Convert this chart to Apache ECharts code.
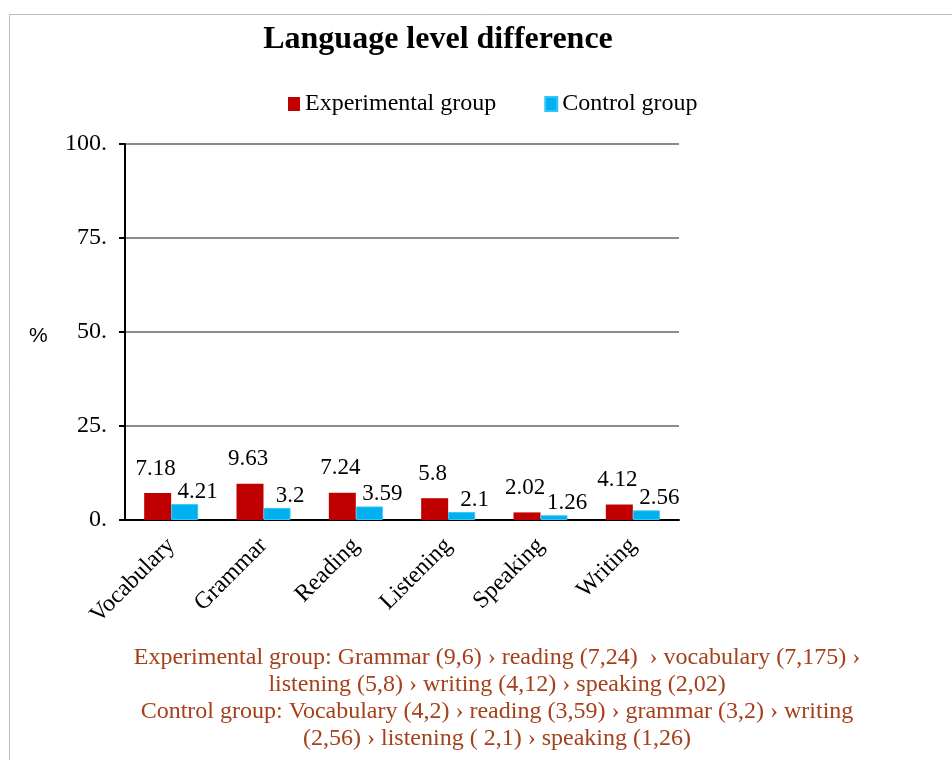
<!DOCTYPE html>
<html>
<head>
<meta charset="utf-8">
<script src="https://cdn.jsdelivr.net/npm/echarts@6/dist/echarts.min.js"></script>
<style>
  html, body { margin: 0; padding: 0; background: #fff; }
  #chart { width: 952px; height: 760px; }
</style>
</head>
<body>
<div id="chart"></div>
<script>
var categories = ["Vocabulary", "Grammar", "Reading", "Listening", "Speaking", "Writing"];
var experimental = [7.18, 9.63, 7.24, 5.8, 2.02, 4.12];
var control = [4.21, 3.2, 3.59, 2.1, 1.26, 2.56];
var footLines = [
    "Experimental group: Grammar (9,6) \u203A reading (7,24)  \u203A vocabulary (7,175) \u203A",
    "listening (5,8) \u203A writing (4,12) \u203A speaking (2,02)",
    "Control group: Vocabulary (4,2) \u203A reading (3,59) \u203A grammar (3,2) \u203A writing",
    "(2,56) \u203A listening ( 2,1) \u203A speaking (1,26)"
];

var serif = "'Liberation Serif', 'Times New Roman', serif";
var chart = echarts.init(document.getElementById("chart"));

// frame, the "%" axis name and the footnote lines
var graphics = [{
    type: "rect",
    shape: { x: 9.5, y: 14.5, width: 960, height: 760 },
    style: { fill: "none", stroke: "#bdbdbd", lineWidth: 1 },
    silent: true
}, {
    type: "text",
    left: 29, top: 326,
    style: { text: "%", font: "21px 'Liberation Sans', Arial, sans-serif", fill: "#000" }
}];
footLines.forEach(function (t, i) {
    graphics.push({
        type: "text",
        x: 497, y: 658 + i * 27,
        style: { text: t, font: "24px " + serif, fill: "#A5401A", align: "center", verticalAlign: "middle" }
    });
});

var option = {
    animation: false,
    title: {
        text: "Language level difference",
        left: 433, top: 19, textAlign: "center",
        textStyle: { fontFamily: serif, fontWeight: "bold", fontSize: 32, color: "#000" }
    },
    legend: {
        top: 87, left: 283,
        itemWidth: 12, itemHeight: 14, itemGap: 48,
        icon: "rect",
        textStyle: { fontFamily: serif, fontSize: 24, color: "#000" },
        data: ["Experimental group", "Control group"]
    },
    grid: { left: 125, right: 273, top: 144, bottom: 240, containLabel: false },
    xAxis: {
        type: "category",
        data: categories,
        axisLine: { lineStyle: { color: "#000", width: 2 } },
        axisTick: { show: false },
        axisLabel: { rotate: 45, margin: 22, fontFamily: serif, fontSize: 24, color: "#000", interval: 0 }
    },
    yAxis: {
        type: "value",
        min: 0, max: 100, interval: 25,
        axisLine: { show: true, lineStyle: { color: "#000", width: 2 } },
        axisTick: { show: true, length: 6, lineStyle: { color: "#000", width: 2 } },
        axisLabel: { margin: 18, fontFamily: serif, fontSize: 24, color: "#000",
            formatter: function (v) { return v + "."; } },
        splitLine: { lineStyle: { color: "#8c8c8c", width: 2 } }
    },
    series: [{
        name: "Experimental group",
        type: "bar",
        data: experimental,
        barWidth: 27,
        barGap: "0%",
        itemStyle: { color: "#C00000" },
        label: { show: true, position: "top", offset: [-2, -8], fontFamily: serif, fontSize: 23, color: "#000" }
    }, {
        name: "Control group",
        type: "bar",
        data: control,
        barWidth: 27,
        itemStyle: { color: "#00B0F0", borderColor: "#33C5F5", borderWidth: 1 },
        label: { show: true, position: "top", offset: [13, 4], fontFamily: serif, fontSize: 23, color: "#000" }
    }],
    graphic: graphics
};
chart.setOption(option);
</script>
</body>
</html>
